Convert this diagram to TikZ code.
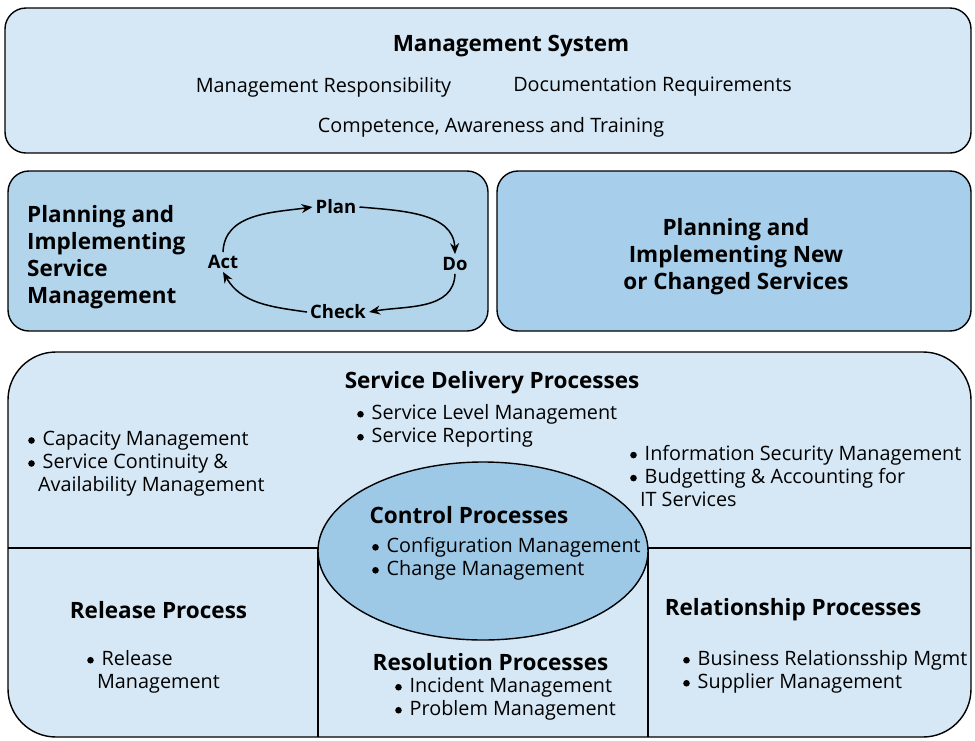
\documentclass[tikz,border=0pt]{standalone}
\usepackage{fontspec}
\setmainfont{Open Sans}
\usetikzlibrary{arrows.meta, positioning, shapes.geometric}

\definecolor{paleblue}{HTML}{D6E8F5}
\definecolor{midblue}{HTML}{B3D5EC}
\definecolor{deepblue}{HTML}{A7CEEA}
\definecolor{ovalblue}{HTML}{9DC8E6}

\newcommand{\bul}{\tikz[x=1pt, y=1pt, baseline=-5.4pt]\fill (0,0) circle[radius=3.3pt];\hspace{0.4em}}
\newcommand{\hang}{\hspace{0.5em}}

\begin{document}
\begin{tikzpicture}[
        x=1pt, y=-1pt,
        panel/.style={
            draw,
            line width=1.4pt,
            rounded corners=21pt
        },
        heading/.style={
            font=\bfseries\fontsize{22.5}{27}\selectfont,
            align=center,
            inner sep=0pt
        },
        body/.style={
            font=\fontsize{19.8}{23}\selectfont,
            align=left,
            inner sep=0pt
        },
        items/.style={
            body,
            anchor=west
        },
        phase/.style={
            font=\bfseries\fontsize{18.5}{20}\selectfont,
            inner sep=3pt
        },
        cycle/.style={
            line width=1.5pt,
            -{Stealth[length=11pt, width=9pt]}
        }
    ]
        \useasboundingbox (0,0) rectangle (975,740);

        % Management System
        \draw[panel, fill=paleblue] (5,8) rectangle (971,153);
        \node[heading] (msys) at (511,46) {Management System};
        \node[body] (mresp) at (323.5,87) {Management Responsibility};
        \node[body] (docreq) at (652.5,87) {Documentation Requirements};
        \node[body] (compet) at (491,127) {Competence, Awareness and Training};

        % Planning and Implementing Service Management + PDCA
        \draw[panel, fill=midblue] (8,171) rectangle (488,331);
        \node[heading, align=left, anchor=west] (psm) at (27,257)
            {Planning and\\Implementing\\Service\\Management};
        \node[phase] (plan) at (336,207) {Plan};
        \node[phase] (do) at (455,264) {Do};
        \node[phase] (check) at (338,312) {Check};
        \node[phase] (act) at (223,262) {Act};
        \draw[cycle] (act.north) to[out=88, in=188] (plan.west);
        \draw[cycle] (plan.east) to[out=-5, in=92] (do.north);
        \draw[cycle] (do.south) to[out=-92, in=10] (check.east);
        \draw[cycle] (check.west) to[out=172, in=-60] (act.south);

        % Planning and Implementing New or Changed Services
        \draw[panel, fill=deepblue] (497,171) rectangle (971,331);
        \node[heading] (pnew) at (736,257)
            {Planning and\\Implementing New\\or Changed Services};

        % service processes
        \draw[panel, rounded corners=48pt, fill=paleblue] (8,352) rectangle (971,737);
        \coordinate (lsplit) at (8,548);
        \coordinate (rsplit) at (971,548);
        \coordinate (lfoot) at (318,737);
        \coordinate (rfoot) at (648,737);
        \draw[line width=1.4pt] (lsplit) -- (318,548) -- (lfoot);
        \draw[line width=1.4pt] (rsplit) -- (648,548) -- (rfoot);
        \node[draw, line width=1.4pt, fill=ovalblue, ellipse,
            minimum width=330pt, minimum height=178pt] (ctrl) at (483,551) {};

        \node[heading] (sdp) at (492,383) {Service Delivery Processes};
        \node[items] (slm) at (357,426) {\bul Service Level Management\\\bul Service Reporting};
        \node[items] (capm) at (28,464)
            {\bul Capacity Management\\\bul Service Continuity \&\\\hang Availability Management};
        \node[items] (isec) at (630,476)
            {\bul Information Security Management\\\bul Budgetting \& Accounting for\\\hang IT Services};

        \node[heading] (ctrlt) at (469,515) {Control Processes};
        \node[items] (cfg) at (372,559) {\bul Configuration Management\\\bul Change Management};

        \node[heading] (relt) at (158.5,610) {Release Process};
        \node[items] (rell) at (87,672) {\bul Release\\\hang Management};

        \node[heading] (rest) at (490.5,662) {Resolution Processes};
        \node[items] (resl) at (395,699) {\bul Incident Management\\\bul Problem Management};

        \node[heading] (relpt) at (793,610) {Relationship Processes};
        \node[items] (relpl) at (683,672)
            {\bul Business Relationsship Mgmt\\\bul Supplier Management};
    \end{tikzpicture}
\end{document}
